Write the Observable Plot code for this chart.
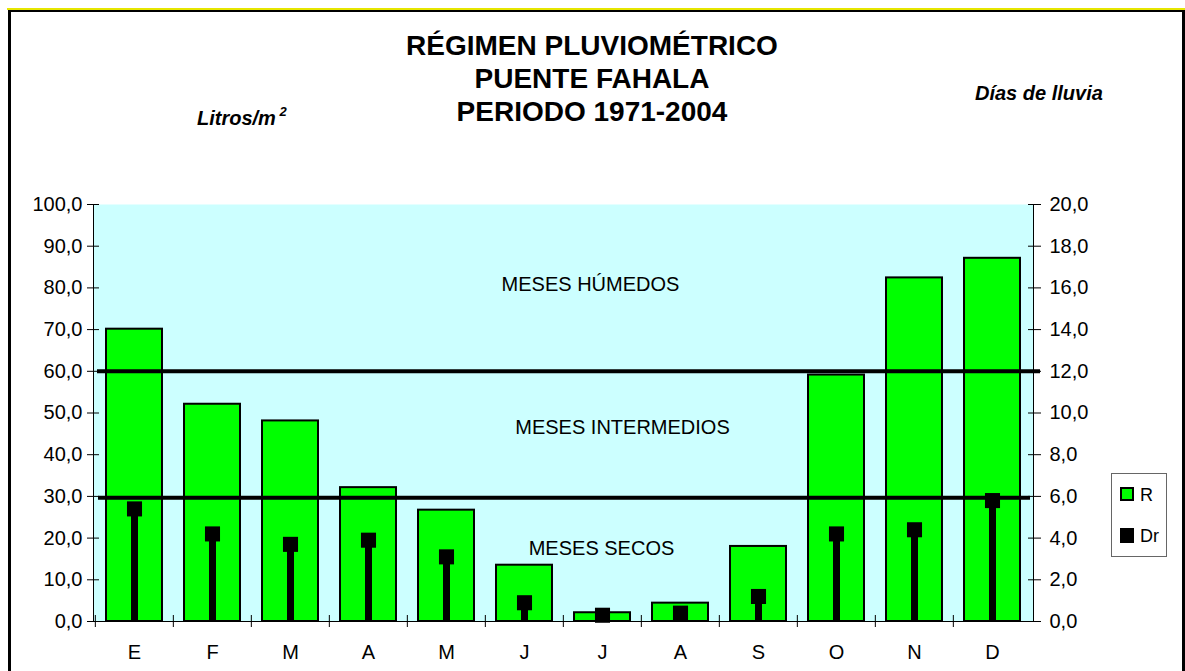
<!DOCTYPE html>
<html><head><meta charset="utf-8">
<script src="https://cdn.jsdelivr.net/npm/d3@7"></script>
<script src="https://cdn.jsdelivr.net/npm/@observablehq/plot@0.6"></script>
<style>
body{margin:0;background:#fff;font-family:"Liberation Sans",Arial,sans-serif;}
#wrap{position:relative;width:1185px;height:671px;overflow:hidden;background:#fff;}
#wrap svg{position:absolute;left:0;top:0;}
.abs{position:absolute;white-space:nowrap;line-height:1;color:#000;}
#border{position:absolute;left:8px;top:10px;width:1177px;height:700px;box-sizing:border-box;border-left:3px solid #000;border-top:2px solid #000;border-right:3px solid #000;}
#yellow{position:absolute;left:7px;top:8px;width:1178px;height:2px;background:#e6e600;}
.title{font-weight:bold;font-size:28px;left:292px;width:600px;text-align:center;}
.unit{font-weight:bold;font-style:italic;font-size:20px;}
#legend{position:absolute;left:1111px;top:473px;width:56px;height:84px;box-sizing:border-box;border:1px solid #666;background:#fff;}
.sw{position:absolute;box-sizing:border-box;}
.lt{position:absolute;font-size:18px;line-height:1;}
</style></head><body>
<div id="wrap">
  <div id="yellow"></div>
  <div id="border"></div>
</div>
<script>
// ---- data ----
const monthIds = ["ene","feb","mar","abr","may","jun","jul","ago","sep","oct","nov","dic"];
const monthLabels = ["E","F","M","A","M","J","J","A","S","O","N","D"];
const rainfall = [70.1, 52.1, 48.1, 32.1, 26.7, 13.5, 2.1, 4.4, 18.0, 59.1, 82.4, 87.1]; // R, litros/m2
const rainDays = [5.4, 4.2, 3.7, 3.9, 3.1, 0.9, 0.3, 0.4, 1.2, 4.2, 4.4, 5.8];           // Dr, días de lluvia
const leftTicks = [0,10,20,30,40,50,60,70,80,90,100];
const rightTicks = [0,2,4,6,8,10,12,14,16,18,20];
const thresholds = [60, 29.7];
const zoneLabels = ["MESES HÚMEDOS","MESES INTERMEDIOS","MESES SECOS"];
const seriesNames = ["R","Dr"];
const titleLines = ["RÉGIMEN PLUVIOMÉTRICO","PUENTE FAHALA","PERIODO 1971-2004"];
const leftUnit = "Litros/m";
const rightUnit = "Días de lluvia";

// ---- build ----
const leftMax = d3.max(leftTicks), rightMax = d3.max(rightTicks);
const k = leftMax / rightMax;
const data = monthIds.map((m, i) => ({m, r: rainfall[i], d: rainDays[i] * k}));
const labelOf = new Map(monthIds.map((m, i) => [m, monthLabels[i]]));
const fmt = v => v.toFixed(1).replace(".", ",");
const font = '"Liberation Sans", Arial, sans-serif';

const chart = Plot.plot({
  width: 1185, height: 671,
  marginLeft: 93, marginRight: 152, marginTop: 204, marginBottom: 50,
  x: {domain: monthIds, paddingInner: 0.28, paddingOuter: 0.14},
  y: {domain: [0, leftMax]},
  style: {fontFamily: font, fontSize: "20px", color: "#000", background: "transparent", overflow: "visible"},
  marks: [
    Plot.frame({fill: "#CCFFFF", stroke: null}),
    Plot.barY(data, {x: "m", y: "r", fill: "#00FF00", stroke: "#000", strokeWidth: 2}),
    Plot.ruleY([thresholds[0]], {stroke: "#000", strokeWidth: 4, insetLeft: 4, insetRight: -7}),
    Plot.ruleY([thresholds[1]], {stroke: "#000", strokeWidth: 4, insetLeft: 5, insetRight: 3}),
    Plot.ruleX(data, {x: "m", y1: 0, y2: "d", stroke: "#000", strokeWidth: 7, insetBottom: -4}),
    Plot.dot(data, {x: "m", y: "d", symbol: "square", r: 8.5, fill: "#000", stroke: null}),
    Plot.text([zoneLabels[0]], {text: d => d, y: 80.8, frameAnchor: "middle", dx: 27, fontSize: 20, fill: "#000"}),
    Plot.text([zoneLabels[1]], {text: d => d, y: 46.6, frameAnchor: "middle", dx: 59, fontSize: 20, fill: "#000"}),
    Plot.text([zoneLabels[2]], {text: d => d, y: 17.6, frameAnchor: "middle", dx: 38, fontSize: 20, fill: "#000"}),
    Plot.ruleY([0], {stroke: "#000", strokeWidth: 1}),
    Plot.frame({anchor: "left", stroke: "#000"}),
    Plot.frame({anchor: "right", stroke: "#000"}),
    Plot.axisY({anchor: "left", ticks: leftTicks, tickSize: 6, tickPadding: 5, tickFormat: fmt, label: null}),
    Plot.axisY({anchor: "left", ticks: leftTicks, tickSize: 6, tickFormat: () => "", dx: 6, label: null}),
    Plot.axisY({anchor: "right", ticks: rightTicks.map(v => v * k), tickSize: 7, tickPadding: 9, tickFormat: v => fmt(v / k), label: null}),
    Plot.axisY({anchor: "right", ticks: rightTicks.map(v => v * k), tickSize: 6, tickFormat: () => "", dx: -6, label: null}),
    Plot.axisX({anchor: "bottom", tickSize: 0, tickPadding: 23, tickFormat: m => labelOf.get(m), label: null}),
    Plot.axisX({anchor: "bottom", tickSize: 12, dy: -6, dx: -39.17, tickFormat: () => "", label: null})
  ]
});
const wrap = document.getElementById("wrap");
wrap.appendChild(chart);

function addText(cls, txt, style) {
  const d = document.createElement("div");
  d.className = "abs " + cls;
  d.textContent = txt;
  Object.assign(d.style, style);
  wrap.appendChild(d);
  return d;
}
const titleTops = [32, 65, 98];
titleLines.forEach((t, i) => addText("title", t, {top: titleTops[i] + "px"}));
const lu = addText("unit", leftUnit, {left: "197px", top: "105px"});
const sup = document.createElement("span");
sup.textContent = " 2";
sup.style.fontSize = "13px";
sup.style.verticalAlign = "9px";
lu.appendChild(sup);
addText("unit", rightUnit, {left: "975px", top: "83px"});

const legend = document.createElement("div");
legend.id = "legend";
wrap.appendChild(legend);
const swatchStyles = [
  {background: "#00FF00", border: "2px solid #000", left: "8px", top: "13px", width: "14px", height: "14px"},
  {background: "#000", left: "8px", top: "54px", width: "14px", height: "15px"}
];
seriesNames.forEach((name, i) => {
  const s = document.createElement("div");
  s.className = "sw";
  Object.assign(s.style, swatchStyles[i]);
  legend.appendChild(s);
  const t = document.createElement("div");
  t.className = "lt";
  t.textContent = name;
  t.style.left = "28px";
  t.style.top = (i === 0 ? 12 : 53) + "px";
  legend.appendChild(t);
});
</script>
</body></html>
